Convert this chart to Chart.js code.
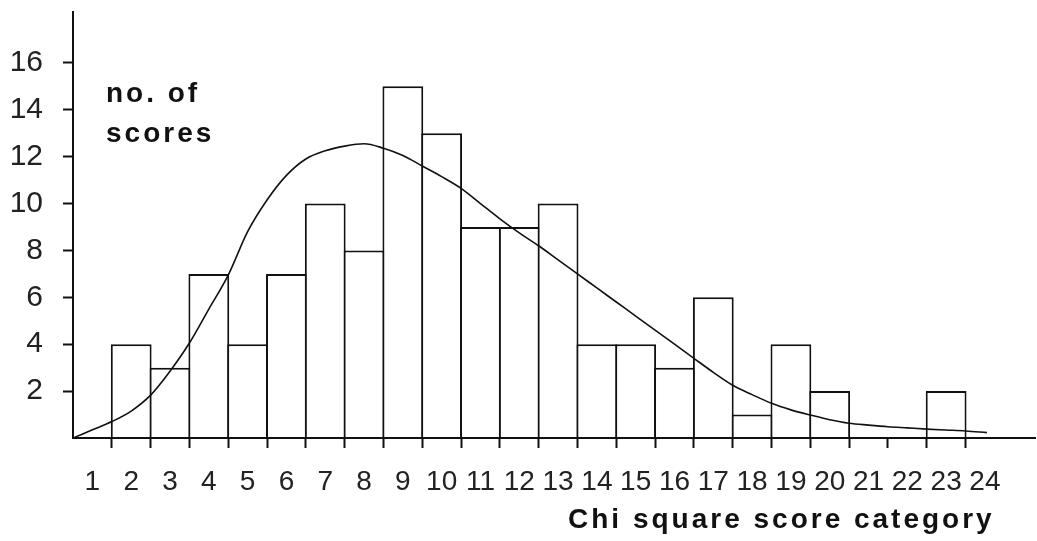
<!DOCTYPE html>
<html>
<head>
<meta charset="utf-8">
<script src="https://cdn.jsdelivr.net/npm/chart.js@4.4.1/dist/chart.umd.min.js"></script>
<style>
  html, body { margin: 0; padding: 0; background: #ffffff; }
  #wrap { width: 1037px; height: 541px; position: relative; background: #ffffff; }
</style>
</head>
<body>
<div id="wrap"><canvas id="c" width="1037" height="541"></canvas></div>
<script>
// ---- data ----
const categories = [1, 2, 3, 4, 5, 6, 7, 8, 9, 10, 11, 12, 13, 14, 15, 16, 17, 18, 19, 20, 21, 22, 23, 24];
const counts     = [0, 4, 3, 7, 4, 7, 10, 8, 15, 13, 9, 9, 10, 4, 4, 3, 6, 1, 4, 2, 0, 0, 2, 0];
const curveX = [0.5, 1.0, 1.5, 2.0, 2.5, 3.0, 3.5, 4.0, 4.5, 5.0, 5.5, 6.0, 6.5, 7.0, 7.5, 8.0, 8.5, 9.0, 9.5, 10.0,
                10.5, 11.0, 11.5, 12.0, 12.5, 13.0, 13.5, 14.0, 14.5, 15.0, 15.5, 16.0, 16.5, 17.0, 17.5, 18.0, 18.5,
                19.0, 19.5, 20.0, 20.5, 21.0, 21.5, 22.0, 22.5, 23.0, 23.5, 24.05];
const curveY = [0, 0.35, 0.70, 1.15, 1.83, 2.85, 4.05, 5.5, 6.95, 8.8, 10.15, 11.2, 11.9, 12.25, 12.45, 12.55, 12.36, 12.05, 11.6, 11.15,
                10.65, 10.0, 9.35, 8.75, 8.2, 7.6, 7.0, 6.4, 5.8, 5.2, 4.6, 4.0, 3.4, 2.8, 2.25, 1.85, 1.48,
                1.2, 0.98, 0.78, 0.63, 0.55, 0.48, 0.43, 0.38, 0.34, 0.30, 0.23];
const yTickValues = [2, 4, 6, 8, 10, 12, 14, 16];
const xTitle = 'Chi square score category';
const yTitleLines = ['no. of', 'scores'];

const INK = '#111111';
const transparent = 'rgba(0,0,0,0)';

const textPlugin = {
  id: 'freeText',
  afterDraw(chart) {
    const ctx = chart.ctx;
    ctx.save();
    ctx.fillStyle = INK;
    ctx.font = 'bold 28px "Liberation Sans", Arial, sans-serif';
    ctx.textAlign = 'left';
    ctx.textBaseline = 'alphabetic';
    if ('letterSpacing' in ctx) ctx.letterSpacing = '3px';
    ctx.fillText(yTitleLines[0], 106, 102);
    ctx.fillText(yTitleLines[1], 106, 142);
    ctx.fillText(xTitle, 568, 528);
    ctx.restore();
  }
};

new Chart(document.getElementById('c'), {
  type: 'bar',
  data: {
    datasets: [
      {
        type: 'line',
        label: 'fitted curve',
        data: curveX.map((x, i) => ({ x: x, y: curveY[i] })),
        borderColor: INK,
        borderWidth: 1.6,
        pointRadius: 0,
        fill: false,
        tension: 0.4,
        cubicInterpolationMode: 'monotone',
        order: 0
      },
      {
        type: 'bar',
        label: 'no. of scores',
        // empty categories are left without a bar
        data: categories.map((c, i) => ({ x: c, y: counts[i] })).filter(p => p.y > 0),
        backgroundColor: '#ffffff',
        borderColor: INK,
        borderWidth: 2,
        borderSkipped: 'start',
        barPercentage: 1.0515,
        categoryPercentage: 1.0,
        order: 1
      }
    ]
  },
  options: {
    responsive: false,
    animation: false,
    layout: { padding: { top: 12, right: 2, left: 0, bottom: 0 } },
    plugins: { legend: { display: false }, tooltip: { enabled: false } },
    scales: {
      x: {
        type: 'linear',
        offset: false,
        min: 0.5,
        max: 25.29,
        afterBuildTicks: (axis) => { axis.ticks = categories.map(v => ({ value: v })); },
        afterFit: (axis) => { axis.height = 103; axis.paddingLeft = 0; axis.paddingRight = 0; },
        ticks: {
          autoSkip: false,
          maxRotation: 0,
          padding: 17,
          color: '#222222',
          font: { family: '"Liberation Sans", Arial, sans-serif', size: 28 },
          callback: (v) => String(v)
        },
        grid: {
          offset: true,
          drawOnChartArea: false,
          drawTicks: true,
          tickLength: 10,
          tickWidth: 2,
          tickColor: (ctx) => (ctx.index === undefined || ctx.index === 0) ? transparent : INK
        },
        border: { display: true, color: INK, width: 2, z: 1 }
      },
      y: {
        type: 'linear',
        min: 0,
        max: 18.17,
        afterBuildTicks: (axis) => { axis.ticks = yTickValues.map(v => ({ value: v })); },
        afterFit: (axis) => { axis.width = 73; axis.paddingTop = 0; axis.paddingBottom = 0; },
        ticks: {
          padding: 20,
          color: '#222222',
          font: { family: '"Liberation Sans", Arial, sans-serif', size: 30 },
          callback: (v) => String(v)
        },
        grid: {
          drawOnChartArea: false,
          drawTicks: true,
          tickLength: 10,
          tickWidth: 2,
          tickColor: INK
        },
        border: { display: true, color: INK, width: 2, z: 1 }
      }
    }
  },
  plugins: [textPlugin]
});
</script>
</body>
</html>
